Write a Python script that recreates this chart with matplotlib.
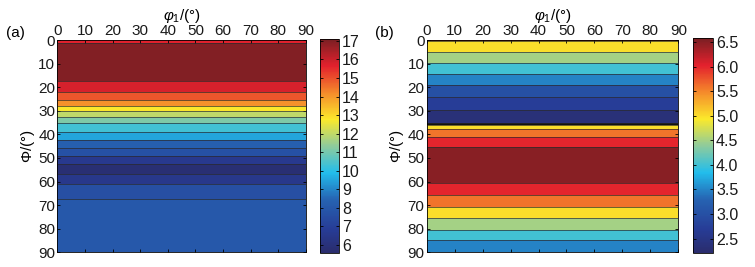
import numpy as np
import matplotlib
matplotlib.use("Agg")
import matplotlib.pyplot as plt
from matplotlib.colors import LinearSegmentedColormap

plt.rcParams['font.family'] = 'Liberation Sans'
plt.rcParams['mathtext.fontset'] = 'custom'
plt.rcParams['mathtext.rm'] = 'Liberation Sans'
plt.rcParams['mathtext.it'] = 'Liberation Sans:italic'
plt.rcParams['font.size'] = 11

# band edges (Phi, deg) and band values
phi_edges_a = [0, 1.4, 17.4, 21.9, 25.4, 28.0, 30.1, 32.5, 35.3, 39.1, 42.4,
               45.9, 49.0, 52.7, 56.7, 61.2, 67.5, 90]
vals_a = [15.7, 17.0, 15.8, 14.9, 14.1, 12.8, 12.0, 11.1, 10.3, 9.5, 8.3,
          7.7, 6.6, 5.8, 6.5, 7.6, 8.0]

phi_edges_b = [0, 0.5, 5.2, 9.9, 14.5, 19.2, 24.3, 29.7, 35.0, 36.0, 37.9,
               41.2, 45.5, 60.5, 65.8, 70.6, 75.6, 80.4, 84.9, 90]
vals_b = [6.4, 5.0, 4.5, 4.0, 3.5, 3.0, 2.7, 2.35, np.nan, 5.0, 5.6, 6.0,
          6.5, 6.0, 5.6, 5.0, 4.5, 4.0, 3.5]

phi1_range = [0, 90]
clim_a = (5.55, 17.1)
clim_b = (2.2, 6.58)
cticks_a = list(range(6, 18))
cticks_b = [2.5, 3.0, 3.5, 4.0, 4.5, 5.0, 5.5, 6.0, 6.5]

# jet-like map as it looks in the printed figure
cmap = LinearSegmentedColormap.from_list("printjet", [
    (0.0, "#2a2c6c"), (0.11, "#273c96"), (0.25, "#2663b2"),
    (0.375, "#22bdec"), (0.5, "#8ecb9c"), (0.625, "#fbe92b"),
    (0.75, "#f58a2b"), (0.875, "#e3212d"), (1.0, "#7b1f23")])
cmap.set_bad("#111111")

fig = plt.figure(figsize=(7.55, 2.67), dpi=100)


def panel(ax_rect, cb_rect, edges, vals, clim, cticks, fmt, tag, tag_x):
    ax = fig.add_axes(ax_rect)
    cax = fig.add_axes(cb_rect)
    C = np.ma.masked_invalid(np.array(vals, dtype=float))[:, None]
    mesh = ax.pcolormesh(phi1_range, edges, C, cmap=cmap,
                         vmin=clim[0], vmax=clim[1], shading='flat')
    # contour lines between bands
    ax.hlines(edges[1:-1], phi1_range[0], phi1_range[1], colors='#2a2a2a',
              linewidth=0.6, alpha=0.8)
    ax.set_xlim(0, 90)
    ax.set_ylim(90, 0)
    ax.set_xticks(np.arange(0, 91, 10))
    ax.set_yticks(np.arange(0, 91, 10))
    ax.xaxis.tick_top()
    ax.xaxis.set_label_position('top')
    ax.tick_params(direction='in', length=2.5, width=0.6, top=True,
                   bottom=True, left=True, right=True, pad=1.5,
                   labelcolor='#1a1a1a')
    ax.set_xlabel(r'$\varphi_1$/(°)', labelpad=3)
    ax.set_ylabel(r'$\mathit{\Phi}$/(°)', labelpad=1)
    for s in ax.spines.values():
        s.set_linewidth(0.6)
    cb = fig.colorbar(mesh, cax=cax, ticks=cticks)
    cb.ax.set_yticklabels([fmt.format(t) for t in cticks])
    cb.ax.tick_params(direction='in', length=2.5, width=0.6, pad=2,
                      labelsize=11.5, left=True, right=True,
                      labelcolor='#1a1a1a')
    cb.outline.set_linewidth(0.6)
    fig.text(tag_x, 1 - 33 / 267, tag, fontsize=11, ha='left', va='center')
    return ax


panel([57.3 / 755, 1 - 252.3 / 267, 248.7 / 755, 212.3 / 267],
      [320 / 755, 1 - 253.3 / 267, 19.3 / 755, 214.3 / 267],
      phi_edges_a, vals_a, clim_a, cticks_a, '{:d}', '(a)', 6 / 755)
panel([426.7 / 755, 1 - 252.3 / 267, 251.6 / 755, 212.3 / 267],
      [692.7 / 755, 1 - 253.3 / 267, 20.6 / 755, 215 / 267],
      phi_edges_b, vals_b, clim_b, cticks_b, '{:.1f}', '(b)', 375 / 755)

fig.savefig("out.png", dpi=100)
